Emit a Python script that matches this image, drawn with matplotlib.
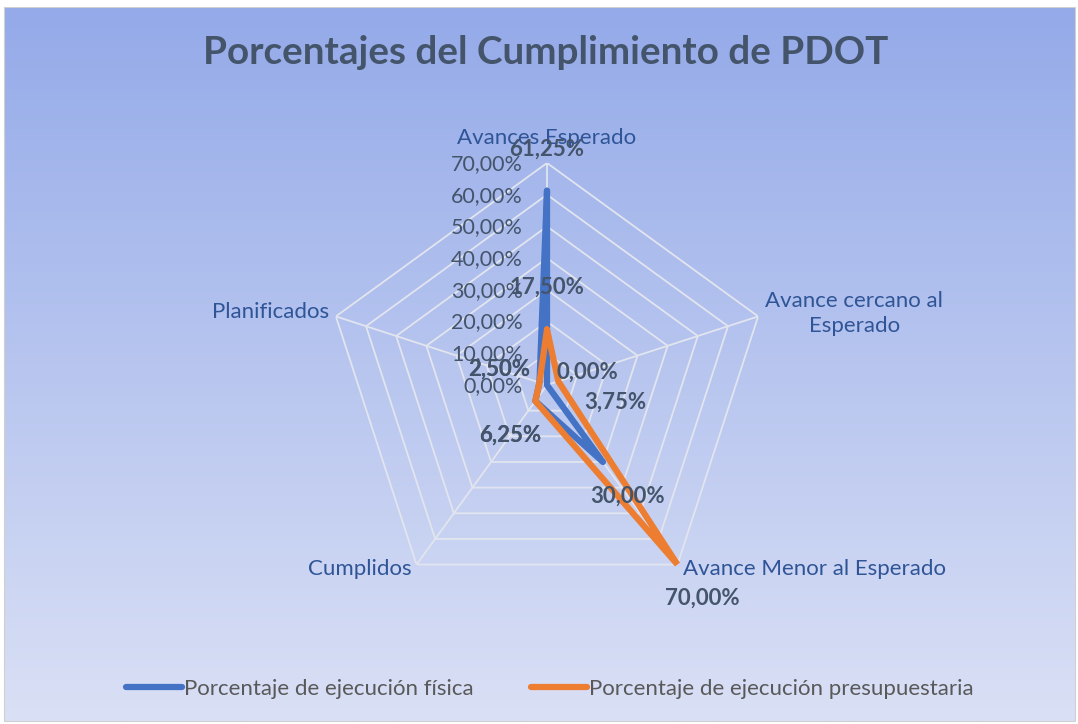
import numpy as np
import matplotlib.pyplot as plt
from matplotlib.lines import Line2D

# Datos del cumplimiento del PDOT
categorias = ['Avances Esperado', 'Avance cercano al\nEsperado', 'Avance Menor al Esperado',
              'Cumplidos', 'Planificados']
fisica = [61.25, 0.00, 30.00, 6.25, 2.50]
presupuestaria = [17.50, 3.75, 70.00, 6.25, 2.50]
niveles = [0, 10, 20, 30, 40, 50, 60, 70]

plt.rcParams['font.family'] = ['Lato', 'DejaVu Sans']

AZUL = '#4472C4'
NARANJA = '#ED7D31'
TEXTO = '#44546A'
ROTULO = '#2F5597'
REJILLA = '#E2E5EE'


def pct(v):
    return f'{v:.2f}%'.replace('.', ',')


fig = plt.figure(figsize=(10.78, 7.24), dpi=100, facecolor='white')

# Fondo con degradado
bg = fig.add_axes([0, 0, 1, 1], zorder=0)
bg.set_xlim(0, 1)
bg.set_ylim(0, 1)
bg.axis('off')
top = np.array([0x94, 0xAA, 0xE9]) / 255
bottom = np.array([0xDA, 0xE0, 0xF5]) / 255
t = np.linspace(0, 1, 256)[:, None]
grad = (top * (1 - t) + bottom * t)[:, None, :]
bg.imshow(grad, extent=[0.004, 0.997, 0.004, 0.99], aspect='auto', zorder=0)
bg.add_patch(plt.Rectangle((0.004, 0.004), 0.993, 0.986, fill=False, ec='#D0D0D0', lw=0.8))

fig.text(0.506, 0.928, 'Porcentajes del Cumplimiento de PDOT', ha='center', va='center',
         fontsize=27.8, fontweight='bold', color=TEXTO)

# Ejes polares
cx, cy, rad = 547 / 1078, 1 - 385 / 724, 222
ax = fig.add_axes([cx - rad / 1078, cy - rad / 724, 2 * rad / 1078, 2 * rad / 724],
                  projection='polar', zorder=1)
ax.patch.set_alpha(0)
ax.set_theta_zero_location('N')
ax.set_theta_direction(-1)
ax.set_ylim(0, 70)
ax.grid(False)
ax.spines['polar'].set_visible(False)
ax.set_xticks([])
ax.set_yticks([])

n = len(categorias)
ang = np.linspace(0, 2 * np.pi, n, endpoint=False)
ang_c = np.append(ang, ang[0])

# Rejilla pentagonal
for lv in niveles[1:]:
    ax.plot(ang_c, [lv] * (n + 1), color=REJILLA, lw=1.3, zorder=1)
for a in ang:
    ax.plot([a, a], [0, niveles[-1]], color=REJILLA, lw=1.3, zorder=1)

for lv in niveles:
    ax.annotate(pct(lv), xy=(0, lv), xytext=(-24, -1), textcoords='offset pixels',
                ha='right', va='center', fontsize=15.5, color=TEXTO, zorder=2)

# Series
for vals, col in [(fisica, AZUL), (presupuestaria, NARANJA)]:
    ax.plot(ang_c, vals + vals[:1], color=col, lw=4.5, solid_joinstyle='round',
            solid_capstyle='round', zorder=3)

# Rótulos de categoría
rot_off = [(0, 25, 'center'), (7, 3, 'left'), (6, -4, 'left'), (-5, -4, 'right'), (-7, 4, 'right')]
for a, cat, (dx, dy, ha) in zip(ang, categorias, rot_off):
    ax.annotate(cat, xy=(a, niveles[-1]), xytext=(dx, dy), textcoords='offset pixels',
                ha=ha, va='center', multialignment='center', linespacing=1.35,
                fontsize=16, color=ROTULO, zorder=4)

# Etiquetas de datos
ajuste = {(1, 1): (57, -21)}
for s, vals in enumerate([fisica, presupuestaria]):
    for i, (a, v) in enumerate(zip(ang, vals)):
        dx, dy = ajuste.get((s, i), (42 * np.sin(a), 42 * np.cos(a)))
        ax.annotate(pct(v), xy=(a, v), xytext=(dx, dy), textcoords='offset pixels',
                    ha='center', va='center', fontsize=16, fontweight='bold',
                    color=TEXTO, zorder=5)

handles = [Line2D([], [], color=AZUL, lw=4.5, solid_capstyle='round'),
           Line2D([], [], color=NARANJA, lw=4.5, solid_capstyle='round')]
fig.legend(handles, ['Porcentaje de ejecución física', 'Porcentaje de ejecución presupuestaria'],
           loc='center', bbox_to_anchor=(0.51, 1 - 689 / 724), ncol=2, frameon=False,
           fontsize=16, handlelength=2.5, handletextpad=0.08, columnspacing=2.6,
           labelcolor='#595959')

fig.savefig('out.png', dpi=100, facecolor='white')
